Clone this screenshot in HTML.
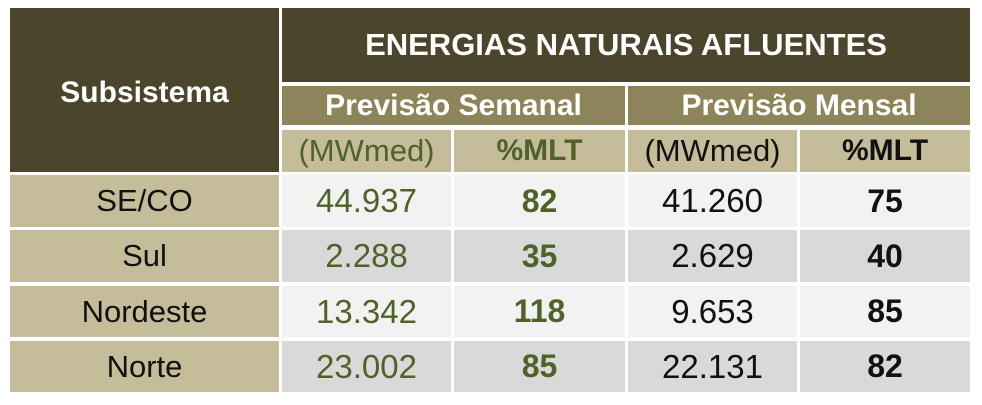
<!DOCTYPE html><html><head><style>
body{margin:0;width:982px;height:405px;background:#fff;position:relative;overflow:hidden;font-family:"Liberation Sans",sans-serif}
div{position:absolute;display:flex;align-items:center;justify-content:center;box-sizing:border-box;white-space:nowrap}
.d{background:#4b452b;color:#fff;font-weight:bold}
.m{background:#8d8459;color:#fff;font-weight:bold;font-size:30px}
.l{background:#c5bc99;font-size:31px}
.a{background:#f2f2f2;font-size:33px}
.b{background:#d9d9d9;font-size:33px}
.s{background:#c5bc99;font-size:31px;color:#111}
.g{color:#4f6228}.k{color:#111}.B{font-weight:bold;font-size:32px}
.l.B{font-size:30px}
</style></head><body>
<div class="d" style="left:10px;top:8px;width:269px;height:164px;font-size:30px;padding-top:6px">Subsistema</div>
<div class="d" style="left:282px;top:8px;width:688px;height:74px;font-size:31px">ENERGIAS NATURAIS AFLUENTES</div>
<div class="m" style="left:282px;top:86px;width:343px;height:39px">Previsão Semanal</div>
<div class="m" style="left:628px;top:86px;width:342px;height:39px">Previsão Mensal</div>
<div class="l g" style="left:282px;top:130px;width:169px;height:42px">(MWmed)</div>
<div class="l g B" style="left:454px;top:130px;width:171px;height:42px">%MLT</div>
<div class="l k" style="left:628px;top:130px;width:169px;height:42px">(MWmed)</div>
<div class="l k B" style="left:800px;top:130px;width:170px;height:42px">%MLT</div>

<div class="s" style="left:10px;top:175px;width:269px;height:52px">SE/CO</div>
<div class="a g" style="left:282px;top:175px;width:169px;height:52px">44.937</div>
<div class="a g B" style="left:454px;top:175px;width:171px;height:52px">82</div>
<div class="a k" style="left:628px;top:175px;width:169px;height:52px">41.260</div>
<div class="a k B" style="left:800px;top:175px;width:170px;height:52px">75</div>

<div class="s" style="left:10px;top:230px;width:269px;height:52px">Sul</div>
<div class="b g" style="left:282px;top:230px;width:169px;height:52px">2.288</div>
<div class="b g B" style="left:454px;top:230px;width:171px;height:52px">35</div>
<div class="b k" style="left:628px;top:230px;width:169px;height:52px">2.629</div>
<div class="b k B" style="left:800px;top:230px;width:170px;height:52px">40</div>

<div class="s" style="left:10px;top:286px;width:269px;height:51px">Nordeste</div>
<div class="a g" style="left:282px;top:286px;width:169px;height:51px">13.342</div>
<div class="a g B" style="left:454px;top:286px;width:171px;height:51px">118</div>
<div class="a k" style="left:628px;top:286px;width:169px;height:51px">9.653</div>
<div class="a k B" style="left:800px;top:286px;width:170px;height:51px">85</div>

<div class="s" style="left:10px;top:341px;width:269px;height:51px">Norte</div>
<div class="b g" style="left:282px;top:341px;width:169px;height:51px">23.002</div>
<div class="b g B" style="left:454px;top:341px;width:171px;height:51px">85</div>
<div class="b k" style="left:628px;top:341px;width:169px;height:51px">22.131</div>
<div class="b k B" style="left:800px;top:341px;width:170px;height:51px">82</div>
</body></html>
